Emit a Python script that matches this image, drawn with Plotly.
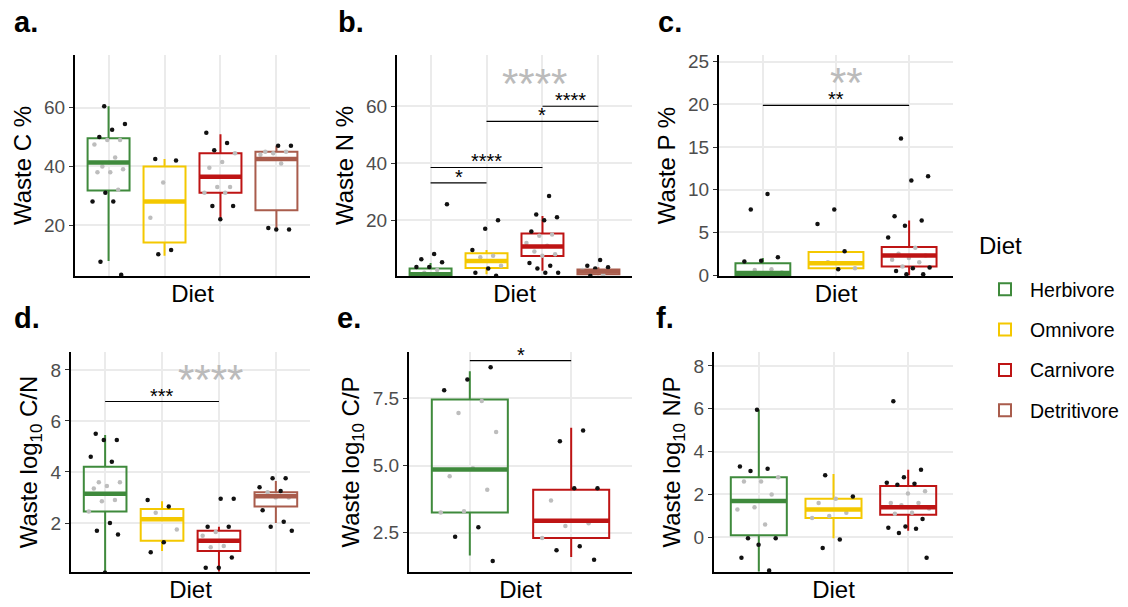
import plotly.graph_objects as go

# ---------------- data ----------------
diets = ["Herbivore", "Omnivore", "Carnivore", "Detritivore"]
colors = {"Herbivore": "#3F8A3C", "Omnivore": "#F4C800",
          "Carnivore": "#BE1414", "Detritivore": "#A95C4C"}

# panel a: Waste C %
C_cats = ["Herbivore", "Omnivore", "Carnivore", "Detritivore"]
C_q1 = [31.8, 14.0, 31.0, 25.0]
C_med = [41.3, 28.0, 36.5, 42.5]
C_q3 = [49.6, 40.0, 44.5, 45.0]
C_lo = [7.7, 9.5, 22.0, 18.5]
C_hi = [60.5, 42.5, 51.0, 47.0]
C_pts = [[60.5, 54.5, 52.5, 50, 49, 49, 47.5, 43, 40, 39, 38, 38, 32, 31, 28, 28, 7.5, 3],
         [42.5, 42, 34.5, 22.5, 11.5, 10],
         [51.5, 48, 45.5, 44.5, 41.5, 39.5, 33, 33, 31, 31, 26.5, 26.5, 22],
         [47, 47, 45, 45, 44.5, 44, 41, 19, 18.5, 18.5]]

# panel b: Waste N %
N_cats = ["Herbivore", "Omnivore", "Carnivore", "Detritivore"]
N_q1 = [0.5, 3.2, 7.4, 1.0]
N_med = [1.0, 5.7, 10.8, 2.0]
N_q3 = [3.0, 8.4, 15.3, 2.7]
N_lo = [0.4, 1.0, 2.2, 1.0]
N_hi = [5.0, 9.5, 21.5, 3.5]
N_pts = [[25.6, 8.1, 6.3, 5.2, 3.6, 3.6, 2.5, 1.5, 1.0, 0.8],
         [20, 17, 9.5, 7.5, 7, 4, 3, 1.5, 0.5],
         [28.5, 22, 21, 20, 16, 15, 14.5, 12, 11, 9, 8, 7.5, 5, 4, 3, 1.5, 1.5],
         [6, 4, 3.5, 3, 2.5, 1, 0.5]]

# panel c: Waste P %
P_cats = ["Herbivore", "Omnivore", "Carnivore"]
P_q1 = [0.0, 0.8, 1.0]
P_med = [0.25, 1.4, 2.3]
P_q3 = [1.4, 2.7, 3.3]
P_lo = [0.0, 0.7, 0.0]
P_hi = [2.0, 2.8, 6.4]
P_pts = [[9.5, 7.7, 2.1, 1.7, 1.6, 0.7, 0.6, 0.3],
         [7.7, 6, 2.8, 1.5, 0.8, 0.7],
         [16, 11.6, 11.1, 6.9, 6.4, 5.8, 4.4, 3.2, 2.5, 2.3, 2.0, 1.8, 1.5, 1.0, 0.9, 0.8, 0.5, 0.1, 0.1]]

# panel d: log10 C/N
CN_cats = ["Herbivore", "Omnivore", "Carnivore", "Detritivore"]
CN_q1 = [2.45, 1.3, 0.9, 2.65]
CN_med = [3.15, 2.15, 1.3, 3.05]
CN_q3 = [4.2, 2.55, 1.7, 3.2]
CN_lo = [0.05, 0.9, 0.1, 2.0]
CN_hi = [5.45, 2.85, 1.85, 3.65]
CN_pts = [[5.5, 5.25, 5.25, 4.6, 4.4, 3.6, 3.6, 3.45, 3.35, 2.9, 2.85, 2.45, 2.0, 1.7, 1.55, 0.05],
          [2.9, 2.65, 2.4, 1.75, 1.25, 0.85],
          [2.95, 2.95, 1.85, 1.85, 1.65, 1.5, 1.1, 1.05, 0.65, 0.25, 0.25],
          [3.75, 3.75, 3.4, 3.25, 3.2, 3.0, 3.0, 2.5, 2.05, 1.85, 1.7]]

# panel e: log10 C/P
CP_cats = ["Herbivore", "Carnivore"]
CP_q1 = [3.25, 2.3]
CP_med = [4.85, 2.95]
CP_q3 = [7.45, 4.1]
CP_lo = [1.65, 1.6]
CP_hi = [8.5, 6.4]
CP_pts = [[8.65, 8.2, 7.8, 7.4, 6.95, 6.25, 4.9, 4.6, 4.1, 3.3, 3.25, 2.7, 2.35, 1.45],
          [6.3, 5.9, 4.15, 4.15, 3.7, 2.85, 2.75, 2.3, 2.0, 1.85, 1.5]]

# panel f: log10 N/P
NP_cats = ["Herbivore", "Omnivore", "Carnivore"]
NP_q1 = [0.1, 0.9, 1.05]
NP_med = [1.7, 1.3, 1.4]
NP_q3 = [2.8, 1.8, 2.4]
NP_lo = [-1.6, -0.05, 0.3]
NP_hi = [5.95, 2.95, 3.15]
NP_pts = [[5.95, 3.3, 3.2, 3.1, 2.8, 2.6, 2.6, 2.0, 1.4, 1.3, 0.6, -0.05, -0.05, -0.35, -0.95, -1.55],
          [2.9, 1.9, 1.8, 1.6, 1.15, 1.0, 0.9, -0.1, -0.5],
          [6.35, 3.15, 2.8, 2.55, 2.5, 2.45, 2.15, 2.05, 1.6, 1.6, 1.5, 1.35, 1.15, 1.1, 0.85, 0.5, 0.45, 0.4, 0.2, -0.95]]

# significance comparisons: (group i, group j, y, label)
N_sig = [(1, 2, 33.1, "*"), (1, 3, 38.5, "****"), (2, 4, 54.7, "*"), (3, 4, 60.0, "****")]
P_sig = [(1, 3, 19.9, "**")]
CN_sig = [(1, 3, 6.76, "***")]
CP_sig = [(1, 2, 8.9, "*")]
# overall test labels: (x position, y, label)
N_overall = (2.86, 69.0, "****")
P_overall = (2.14, 22.9, "**")
CN_overall = (2.85, 7.73, "****")

# ---------------- layout geometry ----------------
W, H = 1128, 607
panels = [
    dict(letter="a.", cats=C_cats, q1=C_q1, med=C_med, q3=C_q3, lo=C_lo, hi=C_hi, pts=C_pts,
         title="Waste C %", yr=[2.6, 78], dtick=20, fmt="", px=(75, 310), py=(55, 276), sig=[], overall=None, lab=(12, 22)),
    dict(letter="b.", cats=N_cats, q1=N_q1, med=N_med, q3=N_q3, lo=N_lo, hi=N_hi, pts=N_pts,
         title="Waste N %", yr=[0.4, 78], dtick=20, fmt="", px=(397, 632), py=(55, 276), sig=N_sig, overall=N_overall, lab=(336, 22)),
    dict(letter="c.", cats=P_cats, q1=P_q1, med=P_med, q3=P_q3, lo=P_lo, hi=P_hi, pts=P_pts,
         title="Waste P %", yr=[-0.1, 25.8], dtick=5, fmt="", px=(719, 953), py=(55, 276), sig=P_sig, overall=P_overall, lab=(656, 22)),
    dict(letter="d.", cats=CN_cats, q1=CN_q1, med=CN_med, q3=CN_q3, lo=CN_lo, hi=CN_hi, pts=CN_pts,
         title="Waste log<sub>10</sub> C/N", yr=[0.08, 8.7], dtick=2, fmt="", px=(71, 310), py=(352, 572), sig=CN_sig, overall=CN_overall, lab=(12, 318)),
    dict(letter="e.", cats=CP_cats, q1=CP_q1, med=CP_med, q3=CP_q3, lo=CP_lo, hi=CP_hi, pts=CP_pts,
         title="Waste log<sub>10</sub> C/P", yr=[1.04, 9.22], dtick=2.5, fmt=".1f", px=(409, 632), py=(352, 572), sig=CP_sig, overall=None, lab=(335, 318)),
    dict(letter="f.", cats=NP_cats, q1=NP_q1, med=NP_med, q3=NP_q3, lo=NP_lo, hi=NP_hi, pts=NP_pts,
         title="Waste log<sub>10</sub> N/P", yr=[-1.62, 8.65], dtick=2, fmt="", px=(714, 953), py=(352, 572), sig=[], overall=None, lab=(654, 318)),
]

FONT = "Liberation Sans, Arial, sans-serif"
fig = go.Figure()
shown = set()
annotations = []
shapes = []


def jitter(k):
    return (((k * 0.6180339887) + 0.37) % 1.0 - 0.5) * 0.6


for pi, p in enumerate(panels):
    n = pi + 1
    xa = "x" if n == 1 else f"x{n}"
    ya = "y" if n == 1 else f"y{n}"
    ncat = len(p["cats"])
    for ci, cat in enumerate(p["cats"]):
        pos = ci + 1
        col = colors[cat]
        xs, ys, cs = [], [], []
        for k, v in enumerate(p["pts"][ci]):
            xs.append(pos + jitter(k + 3 * ci + pi))
            ys.append(v)
            inside = p["q1"][ci] <= v <= p["q3"][ci]
            cs.append("#BDBDBD" if inside else "#111111")
        fig.add_trace(go.Scatter(x=xs, y=ys, mode="markers", xaxis=xa, yaxis=ya,
                                 marker=dict(size=4.5, color=cs), showlegend=False, hoverinfo="y"))
        fig.add_trace(go.Box(x=[pos], q1=[p["q1"][ci]], median=[p["med"][ci]], q3=[p["q3"][ci]],
                             lowerfence=[p["lo"][ci]], upperfence=[p["hi"][ci]],
                             xaxis=xa, yaxis=ya, name=cat, legendgroup=cat,
                             showlegend=cat not in shown, width=0.75, whiskerwidth=0,
                             line=dict(color=col, width=2), fillcolor="rgba(255,255,255,0)",
                             boxpoints=False))
        shown.add(cat)
        fig.add_trace(go.Scatter(x=[pos - 0.375, pos + 0.375], y=[p["med"][ci]] * 2, mode="lines",
                                 xaxis=xa, yaxis=ya, line=dict(color=col, width=4.5),
                                 showlegend=False, hoverinfo="skip"))
    x0, x1 = p["px"]
    y0, y1 = p["py"]
    lay_x = "xaxis" if n == 1 else f"xaxis{n}"
    lay_y = "yaxis" if n == 1 else f"yaxis{n}"
    fig.layout[lay_x] = dict(domain=[x0 / W, x1 / W], range=[0.4, ncat + 0.6], anchor=ya,
                             tickvals=list(range(1, ncat + 1)), showticklabels=False, ticks="",
                             showgrid=True, gridcolor="#EBEBEB", gridwidth=1.5, zeroline=False,
                             showline=True, linecolor="black", linewidth=2, automargin=False,
                             title=dict(text="Diet", font=dict(size=24, color="black", family=FONT), standoff=8),
                             fixedrange=True)
    fig.layout[lay_y] = dict(domain=[1 - y1 / H, 1 - y0 / H], range=p["yr"], anchor=xa,
                             dtick=p["dtick"], tick0=0, tickformat=p["fmt"],
                             showgrid=True, gridcolor="#EBEBEB", gridwidth=1.5,
                             zeroline=False, showline=True, linecolor="black", linewidth=2,
                             ticks="outside", ticklen=4, tickcolor="#333333", tickwidth=1,
                             tickfont=dict(size=19, color="#4D4D4D", family=FONT), automargin=False,
                             title=dict(text=p["title"], font=dict(size=24, color="black", family=FONT), standoff=6),
                             fixedrange=True)
    for (i, j, yv, lab) in p["sig"]:
        shapes.append(dict(type="line", xref=xa, yref=ya, x0=i, x1=j, y0=yv, y1=yv,
                           line=dict(color="black", width=1.2)))
        annotations.append(dict(x=(i + j) / 2, y=yv, xref=xa, yref=ya, text=lab, showarrow=False,
                                yanchor="bottom", yshift=-7, font=dict(size=20, color="black", family=FONT)))
    if p["overall"] is not None:
        ox, oy, ol = p["overall"]
        annotations.append(dict(x=ox, y=oy, xref=xa, yref=ya, text=ol, showarrow=False,
                                yanchor="middle", yshift=-3,
                                font=dict(size=42, color="#BBBBBB", family=FONT)))
    lx, ly = p["lab"]
    annotations.append(dict(x=lx / W, y=1 - ly / H, xref="paper", yref="paper", text="<b>" + p["letter"] + "</b>",
                            showarrow=False, xanchor="left", yanchor="middle",
                            font=dict(size=29, color="black", family=FONT)))

# legend title as its own text
annotations.append(dict(x=977 / W, y=1 - 246 / H, xref="paper", yref="paper", text="Diet",
                        showarrow=False, xanchor="left", yanchor="middle",
                        font=dict(size=24, color="black", family=FONT)))

fig.update_layout(
    width=W, height=H, margin=dict(l=0, r=0, t=0, b=0, autoexpand=False),
    paper_bgcolor="white", plot_bgcolor="white",
    annotations=annotations, shapes=shapes,
    legend=dict(x=980 / W, y=1 - 270 / H, xanchor="left", yanchor="top",
                font=dict(size=19.5, color="black", family=FONT),
                tracegroupgap=12, itemwidth=40, bgcolor="rgba(0,0,0,0)"),
    font=dict(family=FONT),
)

fig.write_html("out.html", config={"displayModeBar": False},
               post_script="document.body.style.margin='0';document.body.style.overflow='hidden';")
